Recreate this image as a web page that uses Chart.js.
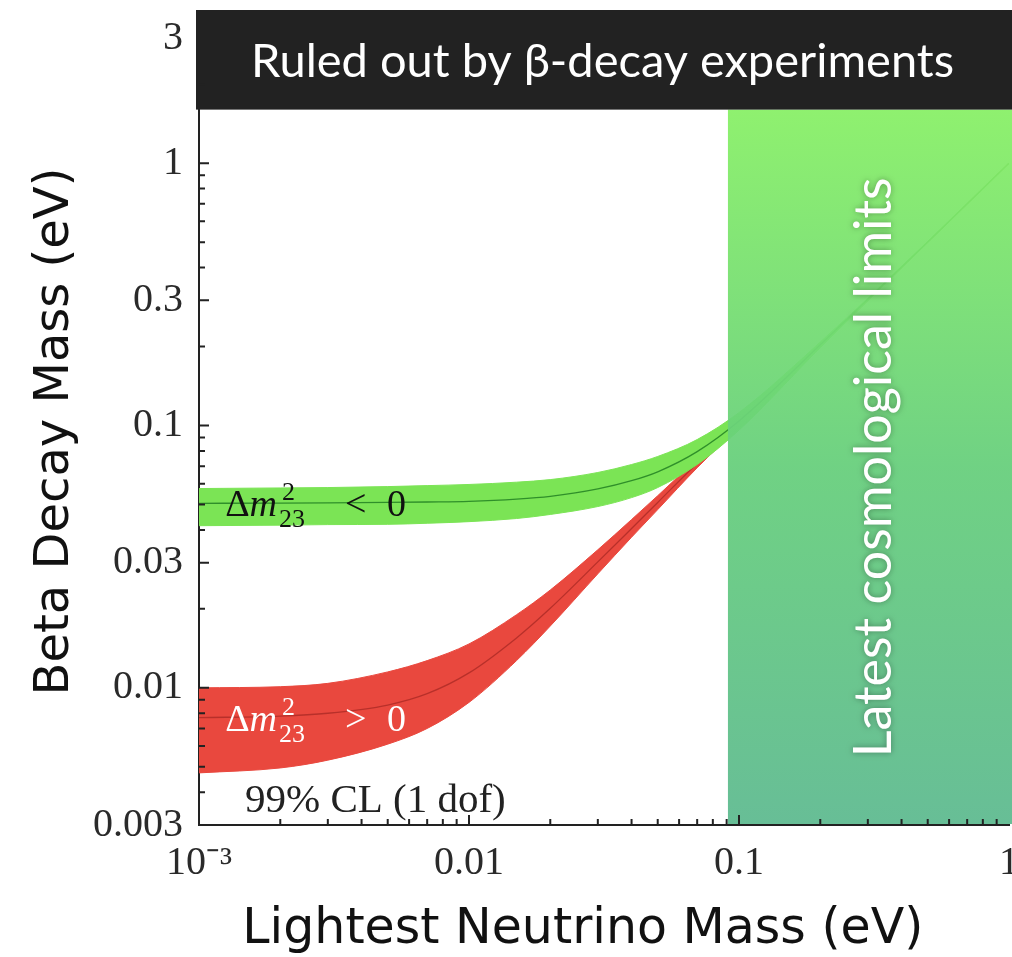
<!DOCTYPE html>
<html lang="en">
<head>
<meta charset="UTF-8">
<title>Beta Decay Mass</title>
<script src="https://cdn.jsdelivr.net/npm/chart.js@4.4.0/dist/chart.umd.min.js"></script>
<style>
  html, body { margin: 0; padding: 0; background: #fff; }
</style>
</head>
<body>
<canvas id="myChart" width="1012" height="957"></canvas>
<script>
// lightest neutrino mass (eV) and the beta decay mass bands
const lightestMass  = [0.001, 0.002, 0.003, 0.005, 0.007, 0.01, 0.015, 0.02, 0.03, 0.04, 0.05, 0.07, 0.1, 0.2, 0.5, 1];
const invertedUpper = [0.0575, 0.0578, 0.0580, 0.0585, 0.0590, 0.0596, 0.0608, 0.0622, 0.0662, 0.0710, 0.0762, 0.0884, 0.112, 0.208, 0.503, 1.0];
const invertedLower = [0.0415, 0.0417, 0.0419, 0.0420, 0.0424, 0.0430, 0.0442, 0.0458, 0.0491, 0.0531, 0.0580, 0.0710, 0.096, 0.198, 0.499, 1.0];
const invertedBest  = [0.0505, 0.0506, 0.0507, 0.0509, 0.0511, 0.0514, 0.0524, 0.0537, 0.0573, 0.0616, 0.0666, 0.0795, 0.104, 0.203, 0.501, 1.0];
const normalUpper   = [0.0100, 0.0101, 0.0104, 0.0115, 0.0127, 0.0147, 0.0190, 0.0236, 0.0336, 0.0438, 0.0540, 0.0745, 0.1035, 0.202, 0.501, 1.0];
const normalLower   = [0.00474, 0.00495, 0.0053, 0.0061, 0.0070, 0.0088, 0.0127, 0.0172, 0.0272, 0.0375, 0.0478, 0.0690, 0.0985, 0.199, 0.499, 1.0];
const normalBest    = [0.0077, 0.0078, 0.0080, 0.0086, 0.0095, 0.0114, 0.0155, 0.0201, 0.0302, 0.0405, 0.0509, 0.0718, 0.101, 0.2005, 0.5, 1.0];

const xTickValues = [0.001, 0.01, 0.1, 1];
const xTickLabels = ['10\u207B\u00B3', '0.01', '0.1', '1'];
const yTickValues = [0.003, 0.01, 0.03, 0.1, 0.3, 1, 3];
const yTickLabels = ['0.003', '0.01', '0.03', '0.1', '0.3', '1', '3'];

const betaDecayLimit = 1.6;    // eV, bottom of the excluded box
const cosmoLimit = 0.091;      // eV, left edge of cosmological region

function pts(ys) {
    return lightestMass.map((m, i) => ({ x: m, y: ys[i] }));
}

function minorTicks(lo, hi) {
    let out = [];
    for (let d = lo; d < hi; d *= 10) {
        for (let k = 1; k < 10; k++) {
            const v = +(d * k).toPrecision(3);
            if (v > lo * 0.999 && v < hi * 1.001) out.push(v);
        }
    }
    return out;
}

function drawDm(ctx, x0, y0, sign, color) {
    ctx.fillStyle = color;
    ctx.textBaseline = 'alphabetic';
    ctx.textAlign = 'left';
    ctx.font = '38px "Liberation Serif"';
    ctx.fillText('\u0394', x0, y0);
    let x = x0 + ctx.measureText('\u0394').width;
    ctx.font = 'italic 38px "Liberation Serif"';
    ctx.fillText('m', x, y0);
    x += ctx.measureText('m').width + 2;
    ctx.font = '26px "Liberation Serif"';
    ctx.fillText('2', x + 3, y0 - 16);
    ctx.fillText('23', x, y0 + 11);
    x += ctx.measureText('23').width + 40;
    ctx.font = '38px "Liberation Serif"';
    ctx.fillText(sign, x, y0);
    ctx.fillText('0', x + 42, y0);
}

const overlay = {
    id: 'overlay',
    afterDatasetsDraw(chart) {
        const { ctx, chartArea, scales: { x, y } } = chart;
        ctx.save();

        // band labels
        drawDm(ctx, x.getPixelForValue(0.00125), y.getPixelForValue(invertedBest[0]) + 13, '<', '#111');
        drawDm(ctx, x.getPixelForValue(0.00125), y.getPixelForValue(normalBest[0]) + 13, '>', '#fff');
        ctx.fillStyle = '#222';
        ctx.font = '41px "Liberation Serif"';
        ctx.textAlign = 'center';
        ctx.textBaseline = 'middle';
        ctx.fillText('99% CL (1 dof)', x.getPixelForValue(0.0045), y.getPixelForValue(0.0037));

        // cosmological region
        const cx0 = x.getPixelForValue(cosmoLimit);
        const cy0 = y.getPixelForValue(betaDecayLimit);
        const g = ctx.createLinearGradient(0, cy0, 0, chartArea.bottom);
        g.addColorStop(0, '#88f066');
        g.addColorStop(0.5, '#67cf7c');
        g.addColorStop(1, '#5eba90');
        ctx.globalAlpha = 0.94;
        ctx.fillStyle = g;
        ctx.fillRect(cx0, cy0, chart.width - cx0, chartArea.bottom - cy0 - 1);
        ctx.globalAlpha = 1;

        ctx.save();
        ctx.translate((cx0 + chart.width) / 2 + 4, (cy0 + chartArea.bottom) / 2);
        ctx.rotate(-Math.PI / 2);
        ctx.shadowColor = 'rgba(0,0,0,0.35)';
        ctx.shadowBlur = 6;
        ctx.fillStyle = '#fff';
        ctx.font = '52px Lato';
        ctx.textAlign = 'center';
        ctx.textBaseline = 'middle';
        ctx.fillText('Latest cosmological limits', 0, 0);
        ctx.restore();

        // excluded by beta decay
        ctx.fillStyle = '#222';
        ctx.fillRect(chartArea.left - 3, 10, chart.width - chartArea.left + 3, cy0 - 10);
        ctx.fillStyle = '#fff';
        ctx.font = '47px Lato';
        ctx.textAlign = 'center';
        ctx.textBaseline = 'middle';
        ctx.fillText('Ruled out by \u03B2-decay experiments', (chartArea.left + chart.width) / 2 - 3, (10 + cy0) / 2 + 2);

        // x axis title
        ctx.fillStyle = '#111';
        ctx.font = '49px "DejaVu Sans"';
        ctx.fillText('Lightest Neutrino Mass (eV)', x.getPixelForValue(0.0264), chartArea.bottom + 105);

        // inward ticks
        ctx.strokeStyle = '#222';
        ctx.lineWidth = 2;
        ctx.beginPath();
        minorTicks(0.001, 1).forEach(v => {
            const px = x.getPixelForValue(v);
            const len = xTickValues.includes(v) ? 10 : 6;
            ctx.moveTo(px, chartArea.bottom);
            ctx.lineTo(px, chartArea.bottom - len);
        });
        minorTicks(0.001, 3).filter(v => v >= 0.003).forEach(v => {
            const py = y.getPixelForValue(v);
            const len = yTickValues.includes(v) ? 10 : 6;
            ctx.moveTo(chartArea.left, py);
            ctx.lineTo(chartArea.left + len, py);
        });
        ctx.stroke();
        ctx.restore();
    }
};

const bandLine = (ys, color) => ({
    data: pts(ys), borderColor: color, borderWidth: 1, pointRadius: 0,
    cubicInterpolationMode: 'monotone', fill: false
});

const ctx = document.getElementById('myChart').getContext('2d');
const myChart = new Chart(ctx, {
    type: 'line',
    data: {
        datasets: [
            { ...bandLine(invertedBest, '#2f8f2a'), borderWidth: 1.3 },
            bandLine(invertedLower, '#7be455'),
            { ...bandLine(invertedUpper, '#7be455'), fill: '-1', backgroundColor: '#7be455' },
            { ...bandLine(normalBest, '#b8302a'), borderWidth: 1.3 },
            bandLine(normalLower, '#e9483e'),
            { ...bandLine(normalUpper, '#e9483e'), fill: '-1', backgroundColor: '#e9483e' }
        ]
    },
    options: {
        responsive: false,
        animation: false,
        layout: { padding: { top: 38, right: 3, left: 0, bottom: 0 } },
        plugins: { legend: { display: false }, tooltip: { enabled: false } },
        scales: {
            x: {
                type: 'logarithmic',
                min: 0.001, max: 1,
                grid: { display: false, drawTicks: false },
                border: { display: true, color: '#222', width: 2 },
                afterBuildTicks: s => { s.ticks = xTickValues.map(v => ({ value: v })); },
                afterFit: s => { s.height = 132; s.paddingLeft = 0; s.paddingRight = 0; },
                ticks: {
                    autoSkip: false, maxRotation: 0, padding: 14, color: '#2a2a2a',
                    font: { family: '"Liberation Serif"', size: 40 },
                    callback: v => xTickLabels[xTickValues.indexOf(v)]
                },
                title: { display: false }
            },
            y: {
                type: 'logarithmic',
                min: 0.003, max: 3,
                grid: { display: false, drawTicks: false },
                border: { display: true, color: '#222', width: 2 },
                afterBuildTicks: s => { s.ticks = yTickValues.map(v => ({ value: v })); },
                afterFit: s => { s.width = 199; s.paddingTop = 0; s.paddingBottom = 0; },
                ticks: {
                    autoSkip: false, padding: 16, color: '#2a2a2a',
                    font: { family: '"Liberation Serif"', size: 40 },
                    callback: v => yTickLabels[yTickValues.indexOf(v)]
                },
                title: {
                    display: true, text: 'Beta Decay Mass (eV)', color: '#111',
                    font: { family: '"DejaVu Sans"', size: 48 }, padding: { top: 27, bottom: 0 }
                }
            }
        }
    },
    plugins: [overlay]
});
</script>
</body>
</html>
